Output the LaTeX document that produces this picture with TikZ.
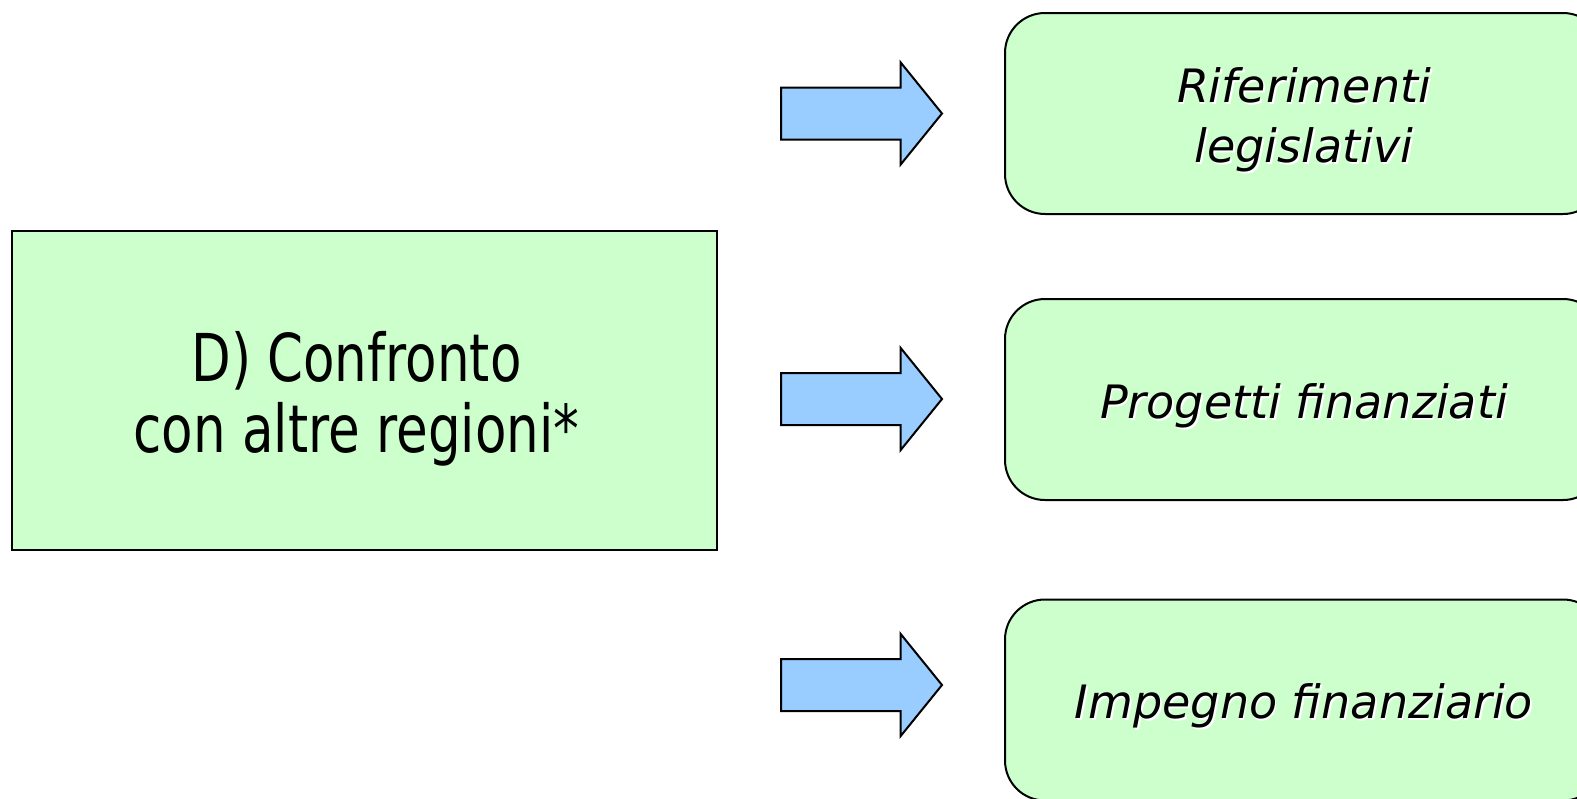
\documentclass[tikz,border=0pt]{standalone}
\usepackage{fontspec}
\setmainfont{DejaVu Sans}
\newfontfamily\narrowfont[FakeStretch=0.78]{DejaVu Sans}
\newfontfamily\itemfont{DejaVu Sans}
\usetikzlibrary{shapes.arrows}
\definecolor{boxgreen}{HTML}{CCFFCC}
\definecolor{arrowblue}{HTML}{99CCFF}
\newcommand\shtxt[1]{\raisebox{-3.5pt}[\height][\depth]{\makebox[0pt][l]{\kern0.9pt\raisebox{-0.9pt}{\textcolor{white}{#1}}}#1}}
\newcommand\mainline[1]{\raisebox{-4pt}[\height][\depth]{#1}\hspace*{8pt}}
\tikzset{
  mainbox/.style={draw=black, line width=1pt, fill=boxgreen, minimum width=352.5pt, minimum height=159.5pt, align=center,
    font=\narrowfont\fontsize{33}{35.5}\selectfont},
  itembox/.style={draw=black, line width=1pt, fill=boxgreen, rounded corners=20pt, minimum width=299pt, minimum height=100.5pt, align=center,
    font=\itemfont\itshape\fontsize{23}{30}\selectfont},
  blockarrow/.style={single arrow, draw=black, line width=1pt, fill=arrowblue, minimum width=50pt, minimum height=80.5pt,
    single arrow head extend=12.5pt, single arrow tip angle=102, inner xsep=0pt, inner ysep=12.5pt, anchor=tail}
}
\begin{document}
\begin{tikzpicture}[x=0.5pt,y=-0.5pt]
\useasboundingbox (0,0) rectangle (1577,798);
\node[mainbox] (main) at (364.5,390.5) {\mainline{D) Confronto}\\\mainline{con altre regioni*}};
\node[itembox] (rif) at (1304,113.5) {\shtxt{Riferimenti}\\\shtxt{legislativi}};
\node[itembox] (prog) at (1304,399.5) {\shtxt{Progetti finanziati}};
\node[itembox] (imp) at (1304,700) {\shtxt{Impegno finanziario}};
\node[blockarrow] (a1) at (780,113.5) {};
\node[blockarrow] (a2) at (780,399) {};
\node[blockarrow] (a3) at (780,685) {};
\end{tikzpicture}
\end{document}
